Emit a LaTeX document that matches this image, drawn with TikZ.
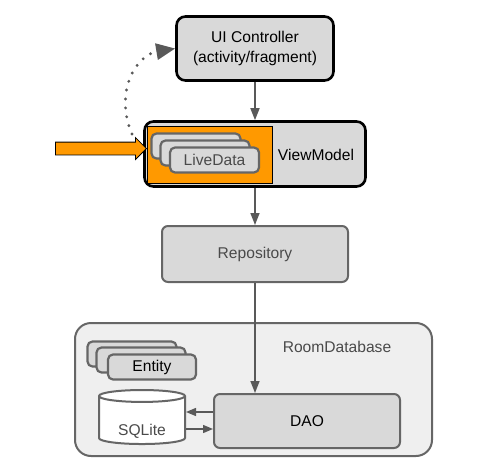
\documentclass[tikz,border=0pt]{standalone}
\usepackage{fontspec}
\setmainfont{Liberation Sans}
\usetikzlibrary{arrows.meta,shapes.geometric,shapes.arrows}
\definecolor{ArchFill}{HTML}{D9D9D9}
\definecolor{ArchRoom}{HTML}{EFEFEF}
\definecolor{ArchLine}{HTML}{666666}
\definecolor{ArchText}{HTML}{4A4A4A}
\definecolor{ArchArrow}{HTML}{595959}
\definecolor{ArchOrange}{HTML}{FF9900}
\tikzset{
  box/.style={rounded corners=6pt, align=center, inner sep=0pt,
              fill=ArchFill, font=\fontsize{15.6}{20}\selectfont},
  layer/.style={box, draw=black, line width=2.6pt, rounded corners=9pt},
  store/.style={box, draw=ArchLine, line width=2pt, text=ArchText},
  card/.style={box, draw=ArchLine, line width=2.2pt, minimum width=89pt,
               minimum height=25pt, rounded corners=5pt},
  label/.style={inner sep=0pt, font=\fontsize{15.6}{20}\selectfont},
  flow/.style={-{Triangle[length=12pt, width=9pt]}, line width=1.6pt,
               draw=ArchArrow},
  link/.style={-{Triangle[length=10pt, width=8pt]}, line width=1.4pt,
               draw=ArchArrow},
  observe/.style={-{Triangle[length=19pt, width=16pt]}, line width=3.2pt,
                  draw=ArchArrow, line cap=round,
                  dash pattern=on 0pt off 9pt}
}

\begin{document}
\begin{tikzpicture}[x=1pt, y=-1pt]
  \useasboundingbox (0,0) rectangle (483,461);

  \node[layer, minimum width=157pt, minimum height=64pt] (ui) at (255,48.5)
    {UI Controller\\(activity/fragment)};

  \node[layer, minimum width=221pt, minimum height=65pt] (vm) at (255,154) {};
  \node[draw=black, line width=0.8pt, fill=ArchOrange, inner sep=0pt,
        minimum width=125pt, minimum height=57pt] (livebox) at (209.5,154.5) {};
  \node[card] (live1) at (196,146) {};
  \node[card] (live2) at (205,153) {};
  \node[card, text=ArchText] (live3) at (214.5,160) {LiveData};
  \node[label] (vmname) at (316,155) {ViewModel};

  \node[single arrow, draw=black, line width=0.8pt, fill=ArchOrange,
        inner xsep=0pt, inner ysep=6pt, minimum height=91pt,
        single arrow head extend=4.5pt, single arrow head indent=0pt,
        anchor=tip] (input) at (147,148.5) {};

  \node[store, minimum width=186pt, minimum height=56pt] (repo) at (255,254)
    {Repository};

  \node[store, fill=ArchRoom, rounded corners=16pt, minimum width=357pt,
        minimum height=133pt] (room) at (253.5,389.5) {};
  \node[label, text=ArchText] (roomname) at (337,347) {RoomDatabase};

  \node[card] (entity1) at (132,354) {};
  \node[card] (entity2) at (141,360) {};
  \node[card, minimum width=88pt] (entity3) at (152,367) {Entity};

  \node[cylinder, shape border rotate=90, aspect=0.25, draw=ArchLine,
        line width=2pt, fill=white, text=ArchText, inner sep=0pt,
        minimum width=86pt, minimum height=54pt,
        font=\fontsize{15.6}{20}\selectfont] (sqlite) at (142,420.5)
    {\raisebox{-15pt}[0pt][0pt]{SQLite}};

  \node[store, text=black, minimum width=186pt, minimum height=54pt] (dao)
    at (307,421) {DAO};

  \draw[flow] (ui.south) -- (vm.north);
  \draw[flow] (vm.south) -- (repo.north);
  \draw[flow] (repo.south) -- (repo.south |- dao.north);
  \draw[link] ([yshift=9pt]dao.west) -- ([yshift=9pt]dao.west -| sqlite.east);
  \draw[link] ([yshift=-8pt]dao.west -| sqlite.east) -- ([yshift=-8pt]dao.west);

  \coordinate (watch) at (132,134);
  \draw[observe] (watch) .. controls (114,92) and (136,55) .. (ui.west);
\end{tikzpicture}
\end{document}
